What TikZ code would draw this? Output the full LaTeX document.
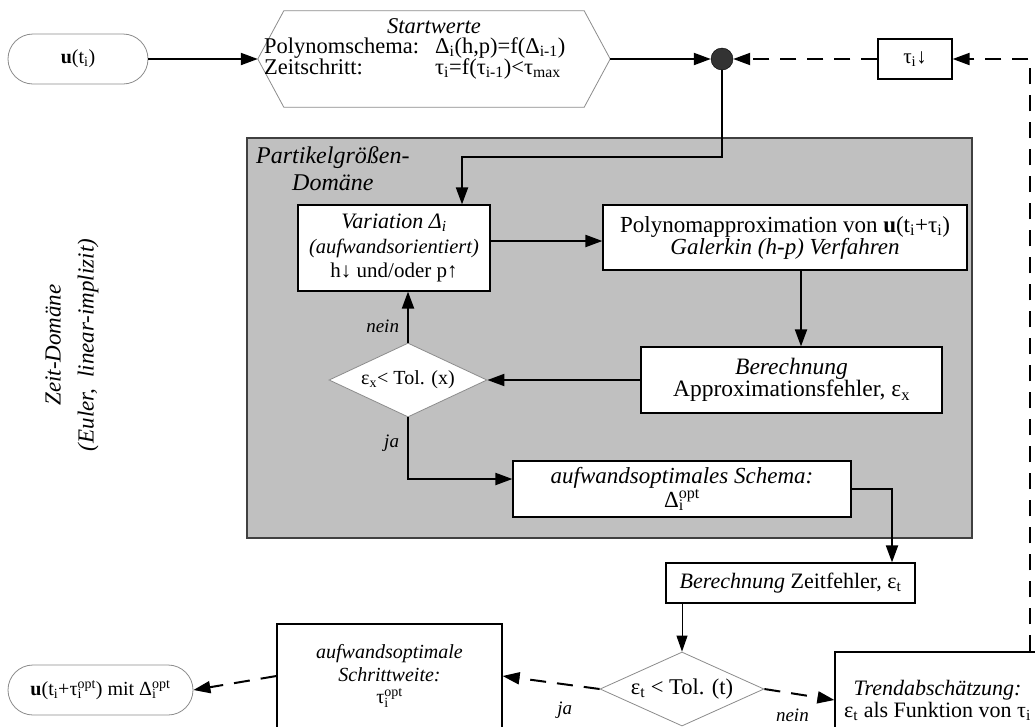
\documentclass[tikz,border=0pt]{standalone}
\usepackage{fontspec}
\setmainfont{Liberation Serif}
\usepackage{xcolor}
\usepackage{tikz}
\usetikzlibrary{positioning, arrows.meta, calc, shapes.geometric}
\definecolor{domaingray}{HTML}{C0C0C0}
\definecolor{domainborder}{HTML}{404040}
\definecolor{shapeborder}{HTML}{8C8C8C}
\definecolor{junctiongray}{HTML}{333333}
\newlength{\startcol}
\newcommand{\subsup}[2]{\rlap{\textsubscript{#1}}\textsuperscript{#2}}
\tikzset{
  textsize/.style 2 args={font=\fontsize{#1}{#2}\selectfont},
  box/.style={draw=black, line width=1.2pt, fill=white, align=center, inner sep=0pt},
  pill/.style={draw=shapeborder, line width=0.8pt, fill=white, rounded corners=25pt, inner sep=0pt, textsize={20}{24}},
  decision/.style={diamond, aspect=2.15, draw=shapeborder, line width=0.8pt, fill=white, inner sep=0pt},
  flow/.style={line width=2pt, -{Triangle[length=17pt, width=12pt]}},
  thinflow/.style={line width=1pt, -{Triangle[length=16pt, width=11pt]}},
  back/.style={flow, dash pattern=on 16pt off 11pt},
  answer/.style={inner sep=0pt, font=\fontsize{19}{22}\selectfont\itshape}
}

\begin{document}
\begin{tikzpicture}[x=1pt, y=-1pt]
  \useasboundingbox (0,0) rectangle (1035,726);
  \clip (0,0) rectangle (1035,726);
  \fill[white] (0,0) rectangle (1035,726);

  % time domain label
  \node[rotate=90, align=center, font=\fontsize{23}{33}\selectfont\itshape] (zeitlabel) at (72,345)
    {Zeit-Domäne\\(Euler,\ \ linear-implizit)};

  % start row
  \node[pill, minimum width=140pt, minimum height=50pt] (ustart) at (78,59) {\textbf{u}(t\textsubscript{i})};
  \node[minimum width=352pt, minimum height=96pt, inner sep=0pt] (start) at (434,59) {};
  \draw[shapeborder, line width=0.8pt] (start.west) -- ($(start.north west)+(26,0)$) -- ($(start.north east)+(-26,0)$)
    -- (start.east) -- ($(start.south east)+(-26,0)$) -- ($(start.south west)+(26,0)$) -- cycle;
  \node[inner sep=0pt, textsize={22.5}{21}] (starttitle) at (434,26) {\textit{Startwerte}};
  \node[anchor=west, align=left, inner sep=0pt, textsize={22.5}{21}] (startrows) at (264,58)
    {\settowidth{\startcol}{Polynomschema:\hspace{16pt}}\global\startcol=\startcol
     \makebox[\startcol][l]{Polynomschema:}Δ\textsubscript{i}(h,p)=f(Δ\textsubscript{i-1})\\
     \makebox[\startcol][l]{Zeitschritt:}τ\textsubscript{i}=f(τ\textsubscript{i-1})<τ\textsubscript{max}};
  \node[circle, fill=junctiongray, draw=black, minimum size=22pt, inner sep=0pt] (junction) at (722,59) {};
  \node[box, minimum width=74pt, minimum height=40pt, textsize={21}{24}] (taudown) at (915,59) {τ\textsubscript{i}↓};
  \coordinate (loopcorner) at (1030,59);

  % particle size domain
  \node[fill=domaingray, draw=domainborder, line width=1.2pt, minimum width=725pt, minimum height=400pt, inner sep=0pt] (domain) at (609.5,338) {};
  \node[anchor=north west, align=center, inner sep=0pt, font=\fontsize{24}{27}\selectfont\itshape] (domainlabel) at (256,146)
    {Partikelgrößen-\\Domäne};

  \node[box, minimum width=192pt, minimum height=86pt, textsize={21}{24.5}] (variation) at (394,248)
    {{\fontsize{22}{24.5}\selectfont\textit{Variation Δ\textsubscript{i}}}\\{\fontsize{20.5}{24.5}\selectfont\textit{(aufwandsorientiert)}}\\h↓ und/oder p↑};
  \node[box, minimum width=364pt, minimum height=65pt, textsize={23}{22}] (polynom) at (785,237.5)
    {Polynomapproximation von \textbf{u}(t\textsubscript{i}+τ\textsubscript{i})\\\textit{Galerkin (h-p) Verfahren}};
  \node[box, minimum width=301pt, minimum height=66pt, textsize={23.5}{21}] (berx) at (791.5,380)
    {\textit{Berechnung}\\Approximationsfehler, ε\textsubscript{x}};
  \node[decision, minimum width=158pt, minimum height=74pt, textsize={20}{24}] (dx) at (408,380) {ε\textsubscript{x}< Tol. (x)};
  \node[box, minimum width=338pt, minimum height=56pt, textsize={23}{24}] (schema) at (682,489)
    {\textit{aufwandsoptimales Schema:}\\Δ\subsup{i}{opt}};

  % time step control
  \node[box, minimum width=249pt, minimum height=40pt, textsize={22}{24}] (zeit) at (790.5,583)
    {\textit{Berechnung} Zeitfehler, ε\textsubscript{t}};
  \node[decision, minimum width=164pt, minimum height=74pt, textsize={22.5}{24}] (dt) at (682,689) {ε\textsubscript{t} < Tol. (t)};
  \node[box, minimum width=225pt, minimum height=104pt, textsize={20}{22.5}] (schritt) at (389.5,676)
    {\textit{aufwandsoptimale}\\\textit{Schrittweite:}\\τ\subsup{i}{opt}};
  \node[pill, minimum width=185pt, minimum height=50pt] (uend) at (100.5,690)
    {\textbf{u}(t\textsubscript{i}+τ\subsup{i}{opt}) mit Δ\subsup{i}{opt}};
  \node[box, minimum width=205pt, minimum height=96pt, textsize={22}{22}] (trend) at (937.5,700)
    {\textit{Trendabschätzung:}\\ε\textsubscript{t} als Funktion von τ\textsubscript{i}};

  % connectors
  \coordinate (varout) at ($(variation.east)+(0,-7)$);
  \coordinate (polyout) at ($(polynom.south)+(16,0)$);
  \coordinate (schemain) at ($(schema.west)+(0,-10)$);
  \draw[flow] (ustart.east) -- (start.west);
  \draw[flow] (start.east) -- (junction.west);
  \draw[back] (taudown.west) -- (junction.east);
  \draw[back] (trend.north -| loopcorner) -- (loopcorner) -- (taudown.east);
  \draw[flow] (junction.south) |- ($(variation.north)+(68,-47)$) -- ($(variation.north)+(68,0)$);
  \draw[flow] (varout) -- (varout -| polynom.west);
  \draw[flow] (polyout) -- (polyout |- berx.north);
  \draw[flow] (berx.west) -- (dx.east);
  \draw[flow] (dx.north) -- (dx.north |- variation.south) node[pos=0.32, left=8pt, answer] {nein};
  \draw[flow] (dx.south) |- (schemain) node[pos=0.21, left=8pt, answer] {ja};
  \draw[flow] (schema.east) -| ($(zeit.north)+(101.5,0)$);
  \draw[thinflow] (zeit.south -| dt.north) -- (dt.north);
  \draw[back] (dt.west) -- (schritt.east) node[pos=0.36, below=17pt, answer] {ja};
  \draw[back] (schritt.west) -- (uend.east);
  \draw[back] (dt.east) -- (trend.west) node[pos=0.4, below=15pt, answer] {nein};
\end{tikzpicture}
\end{document}
